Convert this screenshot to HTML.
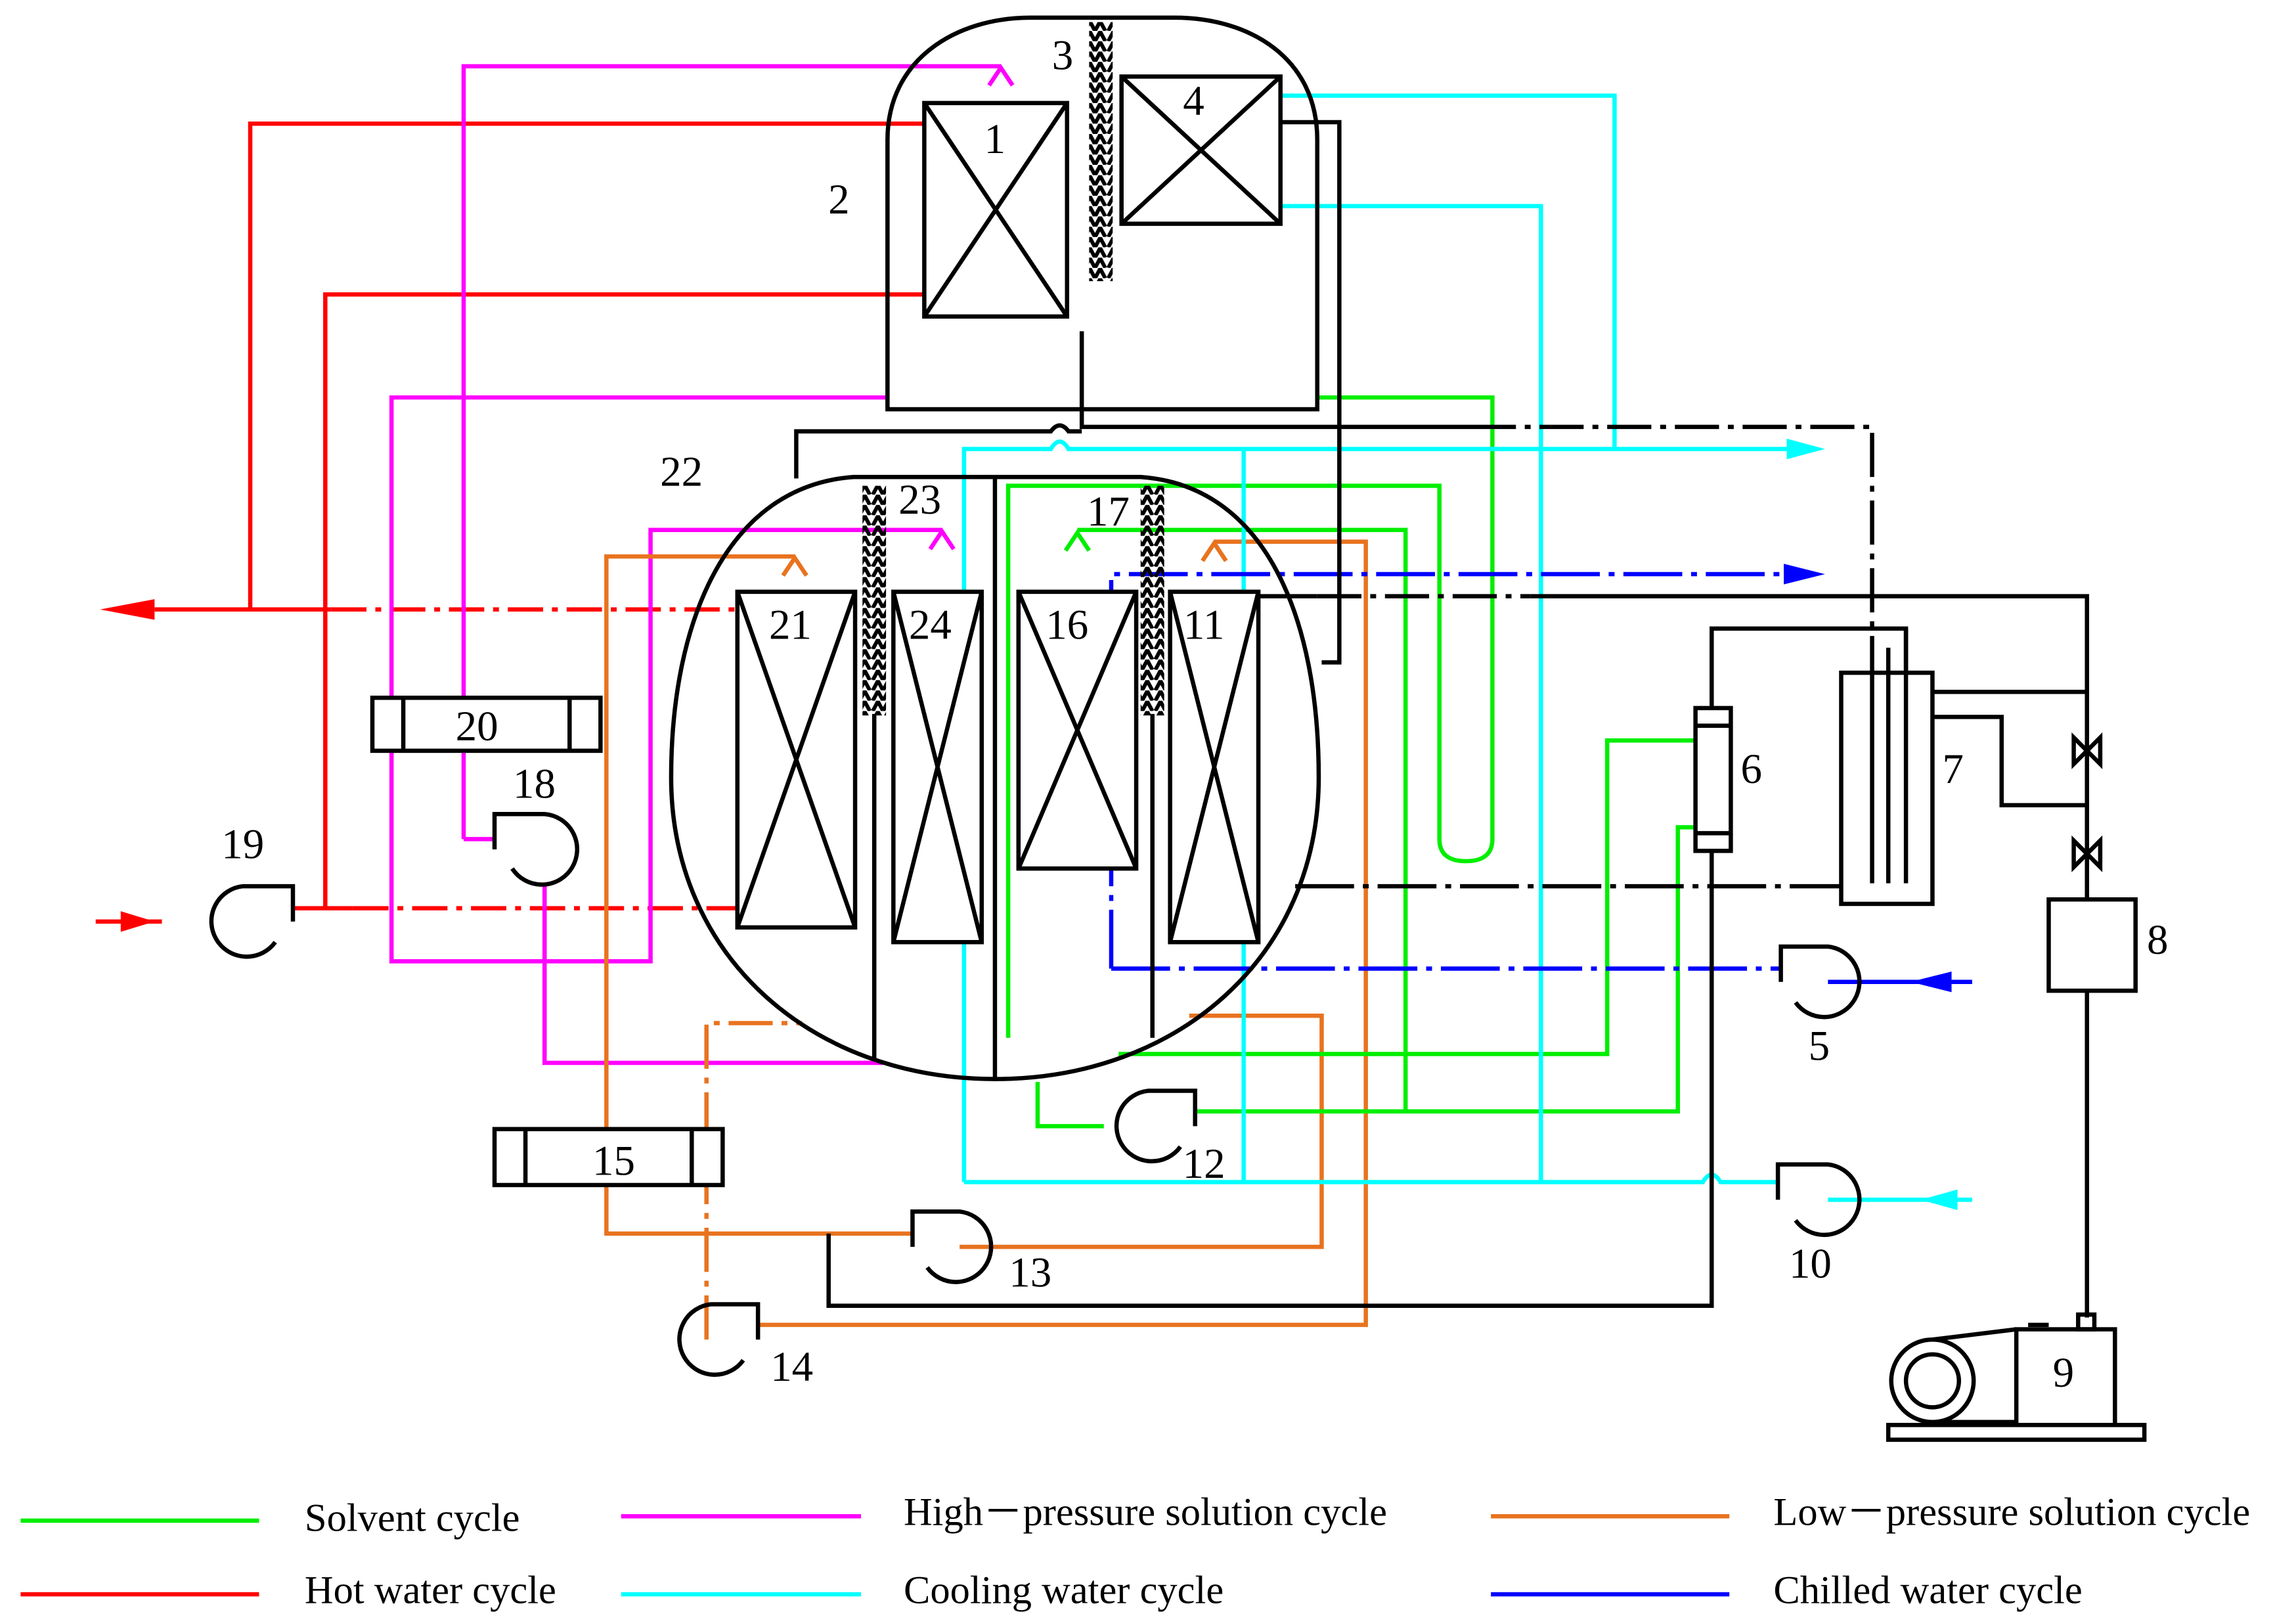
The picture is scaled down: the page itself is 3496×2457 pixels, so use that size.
<!DOCTYPE html>
<html><head><meta charset="utf-8"><style>html,body{margin:0;padding:0;background:#fff}svg{display:block}</style></head>
<body>
<svg xmlns="http://www.w3.org/2000/svg" width="3496" height="2457" viewBox="0 0 1560 1096.4">
<defs>
<pattern id="chev" width="16" height="7" patternUnits="userSpaceOnUse">
<path d="M1,7 L4.5,0.5 L8,7 M8,7 L11.5,0.5 L15,7" fill="none" stroke="#000" stroke-width="2.6"/>
</pattern>
</defs>
<rect width="1560" height="1097" fill="#fff"/>
<g fill="none" stroke-width="2.9" stroke-linejoin="miter">

<g stroke="#ff0000">
<path d="M628,84 H170 V414"/>
<path d="M105,414 H225"/>
<path d="M225,414 H500" stroke-dasharray="24 6 4 6"/>
<path d="M628,200 H221 V617"/>
<path d="M199,617 H240"/>
<path d="M240,617 H501" stroke-dasharray="24 6 4 6"/>
<path d="M65,626 H110"/>
</g>
<polygon points="68,414 105,407 105,421" fill="#ff0000"/>
<polygon points="105,626 82,619 82,633" fill="#ff0000"/>

<g stroke="#ff00ff">
<path d="M315,570 V45 H680"/>
<path d="M672,58 L680,46 L688,58"/>
<path d="M315,570 H336"/>
<path d="M370,600 V722 H600"/>
<path d="M603,270 H266 V653 H442 V360 H640"/>
<path d="M632,373 L640,361 L648,373"/>
</g>

<g stroke="#e8731f">
<path d="M540,378 H412 V838 H620"/>
<path d="M532,391 L540,379 L548,391"/>
<path d="M825,368 H928 V900 H515"/>
<path d="M817,381 L825,369 L833,381"/>
<path d="M652,847 H898 V690 H808"/>
<path d="M480,910 V695 H545" stroke-dasharray="30 6 4 6"/>
</g>

<g stroke="#00ee00">
<path d="M895,270 H1014 V570 Q1014,585 996,585 Q978,585 978,570 V330 H685 V705"/>
<path d="M732,360 H955 V755"/>
<path d="M724,374 L732,362 L740,374"/>
<path d="M760,716 H1092 V503 H1152"/>
<path d="M705,735 V765 H750"/>
<path d="M812,755 H1140 V562 H1152"/>
</g>

<g stroke="#00ffff">
<path d="M870,65 H1097 V305"/>
<path d="M655,803 V305 H714 Q720,295 726,305 H1220"/>
<path d="M870,140 H1047 V803"/>
<path d="M655,803 H1157 Q1163,793 1169,803 H1208"/>
<path d="M845,305 V803"/>
<path d="M1242,815 H1340"/>
</g>
<polygon points="1240,305 1214,298 1214,312" fill="#00ffff"/>
<polygon points="1305,815 1330,808 1330,822" fill="#00ffff"/>

<g stroke="#0000ff">
<path d="M755,658 V390 H1215" stroke-dasharray="40 6 4 6"/>
<path d="M755,658 H1210" stroke-dasharray="40 6 4 6"/>
<path d="M1242,667 H1340"/>
</g>
<polygon points="1240,390 1212,383 1212,397" fill="#0000ff"/>
<polygon points="1298,667 1326,660 1326,674" fill="#0000ff"/>

<g stroke="#000">
<path d="M735,225 V290 H1000"/>
<path d="M1000,290 H1272 V457" stroke-dasharray="30 6 4 6"/>
<path d="M870,83 H910 V450 H898"/>
<path d="M855,405 H895"/>
<path d="M895,405 H1040" stroke-dasharray="30 6 4 6"/>
<path d="M1040,405 H1418 V611"/>
<path d="M1163,481 V427 H1295 V457"/>
<path d="M1163,578 V887 H563 V838"/>
<path d="M880,602 H1251" stroke-dasharray="40 6 4 6"/>
<path d="M1313,470 H1418"/>
<path d="M1313,487 H1360 V547 H1418"/>
<path d="M1418,673 V895"/>
<path d="M541,325 V293 H714 Q720,285 726,293 H735"/>
</g>

<g stroke="#000">
<path d="M603,278 V95 C603,40 650,12 700,12 H798 C850,12 895,40 895,95 V278 Z"/>
<rect x="628" y="70" width="97" height="145" fill="#fff"/>
<path d="M628,70 L725,215 M725,70 L628,215"/>
<rect x="762" y="52" width="108" height="100" fill="#fff"/>
<path d="M762,52 L870,152 M870,52 L762,152"/>
</g>
<rect x="740" y="15" width="16" height="176" fill="url(#chev)" stroke="none"/>

<g stroke="#000">
<path d="M580,324 H775 C860,330 896,420 896,528 C896,650 800,733 676,733 C552,733 456,650 456,528 C456,420 495,330 580,324 Z"/>
<rect x="501" y="402" width="80" height="228" fill="#fff"/>
<path d="M501,402 L581,630 M581,402 L501,630"/>
<rect x="607" y="402" width="60" height="238" fill="#fff"/>
<path d="M607,402 L667,640 M667,402 L607,640"/>
<rect x="692" y="402" width="80" height="188" fill="#fff"/>
<path d="M692,402 L772,590 M772,402 L692,590"/>
<rect x="795" y="402" width="60" height="238" fill="#fff"/>
<path d="M795,402 L855,640 M855,402 L795,640"/>
<path d="M594,485 V720 M676,324 V733 M783,485 V705"/>
</g>
<rect x="586" y="330" width="16" height="156" fill="url(#chev)" stroke="none"/>
<rect x="775" y="330" width="16" height="156" fill="url(#chev)" stroke="none"/>

<g stroke="#000">
<rect x="253" y="474" width="155" height="36" fill="#fff"/><path d="M274,474 V510 M387,474 V510"/>
<rect x="336" y="767" width="155" height="38" fill="#fff"/><path d="M357,767 V805 M470,767 V805"/>
<rect x="1152" y="481" width="24" height="97" fill="#fff"/><path d="M1152,493 H1176 M1152,566 H1176"/>
<rect x="1251" y="457" width="62" height="157" fill="#fff"/>
<path d="M1272,457 V600 M1283,440 V600 M1295,427 V600"/>
<path d="M1409,501 L1427,519 L1427,501 L1409,519 Z"/>
<path d="M1409,571 L1427,589 L1427,571 L1409,589 Z"/>
<rect x="1392" y="611" width="59" height="62"/>
<rect x="1283" y="968" width="174" height="10"/>
<rect x="1370" y="903" width="67" height="65"/>
<rect x="1412" y="893" width="11" height="10"/>
<path d="M1378,900 H1392"/>
<path d="M1313,910 L1370,903 M1313,966 L1370,966"/>
<circle cx="1313" cy="938" r="28"/>
<circle cx="1313" cy="938" r="18"/>
</g>

<g stroke="#000">
<path d="M187,640 A24,24 0 1 1 165,602 H199 V626"/>
<path d="M348,590 A24,24 0 1 0 370,553 H336 V577"/>
<path d="M1220,681 A24,24 0 1 0 1242,643 H1210 V667"/>
<path d="M1220,829 A24,24 0 1 0 1242,791 H1208 V815"/>
<path d="M802,779 A24,24 0 1 1 780,741 H812 V765"/>
<path d="M630,861 A24,24 0 1 0 652,823 H620 V847"/>
<path d="M505,924 A24,24 0 1 1 483,886 H515 V910"/>
</g>

<path d="M14,1033 H176" stroke="#00ee00"/>
<path d="M422,1030 H585" stroke="#ff00ff"/>
<path d="M1013,1030 H1175" stroke="#e8731f"/>
<path d="M14,1083 H176" stroke="#ff0000"/>
<path d="M422,1083 H585" stroke="#00ffff"/>
<path d="M1013,1083 H1175" stroke="#0000ff"/>
</g>

<g font-family="Liberation Serif, serif" font-size="29" fill="#000" text-anchor="middle">
<text x="676" y="104">1</text>
<text x="570" y="145">2</text>
<text x="722" y="47">3</text>
<text x="811" y="78">4</text>
<text x="1236" y="720">5</text>
<text x="1190" y="532">6</text>
<text x="1327" y="532">7</text>
<text x="1466" y="648">8</text>
<text x="1402" y="942">9</text>
<text x="1230" y="868">10</text>
<text x="818" y="434">11</text>
<text x="818" y="800">12</text>
<text x="700" y="874">13</text>
<text x="538" y="938">14</text>
<text x="417" y="798">15</text>
<text x="725" y="434">16</text>
<text x="753" y="357">17</text>
<text x="363" y="542">18</text>
<text x="165" y="583">19</text>
<text x="324" y="503">20</text>
<text x="537" y="434">21</text>
<text x="463" y="330">22</text>
<text x="625" y="349">23</text>
<text x="632" y="434">24</text>
</g>
<g font-family="Liberation Serif, serif" font-size="27" fill="#000">
<text x="207" y="1040">Solvent cycle</text>
<text x="614" y="1036">High－pressure solution cycle</text>
<text x="1205" y="1036">Low－pressure solution cycle</text>
<text x="207" y="1089">Hot water  cycle</text>
<text x="614" y="1089">Cooling water  cycle</text>
<text x="1205" y="1089">Chilled water cycle</text>
</g>
</svg>
</body></html>
